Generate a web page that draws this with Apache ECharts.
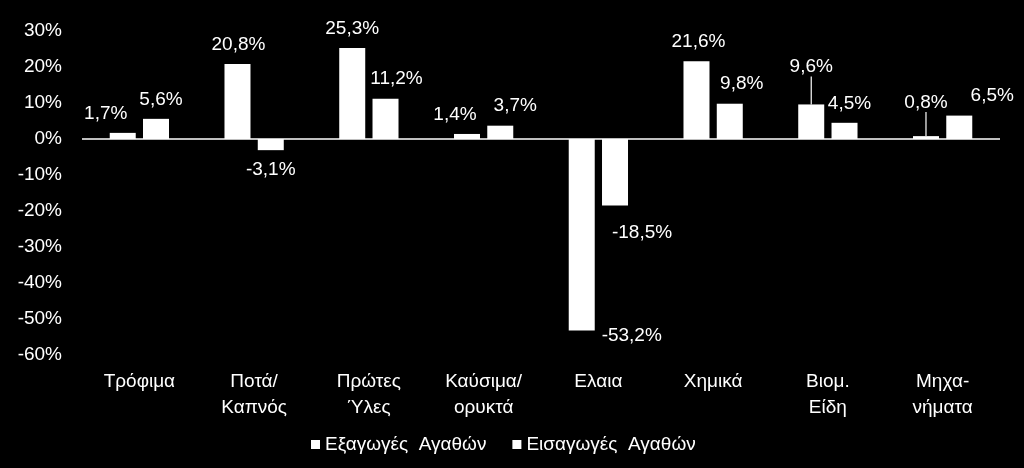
<!DOCTYPE html>
<html>
<head>
<meta charset="utf-8">
<script src="https://cdn.jsdelivr.net/npm/echarts@6/dist/echarts.min.js"></script>
<style>
  html, body { margin: 0; padding: 0; background: #000; }
  #main { width: 1024px; height: 468px; }
</style>
</head>
<body>
<div id="main"></div>
<script>
var categories = ['Τρόφιμα', 'Ποτά/\nΚαπνός', 'Πρώτες\nΎλες', 'Καύσιμα/\nορυκτά', 'Ελαια', 'Χημικά', 'Βιομ.\nΕίδη', 'Μηχα-\nνήματα'];
var exportsVals = [1.7, 20.8, 25.3, 1.4, -53.2, 21.6, 9.6, 0.8];
var importsVals = [5.6, -3.1, 11.2, 3.7, -18.5, 9.8, 4.5, 6.5];
var seriesNames = ['Εξαγωγές  Αγαθών', 'Εισαγωγές  Αγαθών'];

// label nudges
var exportsShift = [[-17, 0], [1, 0], [0, 0], [-12, 0], [50, -14], [2, 0], [0, -18], [0, -14]];
var importsShift = [[5, 0], [0, 0], [11, 0], [15, 0], [27, 8], [12, 0], [5, 0], [33, 0]];
var leaderLines = [[6, 7], []];

var font = 'Liberation Sans, Arial, sans-serif';
var myChart = echarts.init(document.getElementById('main'));

function pct(p) {
    return p.value.toFixed(1).replace('.', ',') + '%';
}

function makeData(vals, seriesIdx) {
    return vals.map(function (v, i) {
        var item = {
            value: v,
            label: { position: v < 0 ? 'bottom' : 'top' }
        };
        if (leaderLines[seriesIdx].indexOf(i) >= 0) {
            item.labelLine = { show: true, lineStyle: { color: '#fff', width: 1.2 } };
        }
        return item;
    });
}

function shiftLayout(shifts) {
    return function (params) {
        var s = shifts[params.dataIndex];
        return { dx: s[0], dy: s[1] };
    };
}

var labelStyle = {
    show: true,
    color: '#fff',
    fontSize: 19,
    fontFamily: font,
    distance: 10,
    formatter: pct
};

var option = {
    backgroundColor: '#000',
    animation: false,
    textStyle: { fontFamily: font },
    grid: { left: 82, right: 24, top: 31, bottom: 113 },
    legend: {
        top: 430,
        left: 306,
        itemWidth: 9,
        itemHeight: 9,
        itemGap: 26,
        icon: 'rect',
        textStyle: { color: '#fff', fontSize: 19, fontFamily: font },
        data: seriesNames
    },
    xAxis: {
        type: 'category',
        data: categories,
        axisLine: { show: false, onZero: false },
        axisTick: { show: false },
        axisLabel: {
            color: '#fff',
            fontSize: 19,
            fontFamily: font,
            lineHeight: 26,
            margin: 14,
            interval: 0
        }
    },
    yAxis: {
        type: 'value',
        min: -60,
        max: 30,
        interval: 10,
        axisLine: { show: false },
        axisTick: { show: false },
        splitLine: { show: false },
        axisLabel: {
            color: '#fff',
            fontSize: 19,
            fontFamily: font,
            margin: 20,
            padding: [6, 0, 0, 0],
            formatter: '{value}%'
        }
    },
    series: [
        {
            name: seriesNames[0],
            type: 'bar',
            barWidth: 26,
            barGap: '28%',
            itemStyle: { color: '#fff' },
            label: labelStyle,
            labelLayout: shiftLayout(exportsShift),
            data: makeData(exportsVals, 0),
            markLine: {
                silent: true,
                symbol: 'none',
                label: { show: false },
                lineStyle: { color: '#fff', type: 'solid', width: 1.5 },
                data: [{ yAxis: 0 }]
            }
        },
        {
            name: seriesNames[1],
            type: 'bar',
            barWidth: 26,
            barGap: '28%',
            itemStyle: { color: '#fff' },
            label: labelStyle,
            labelLayout: shiftLayout(importsShift),
            data: makeData(importsVals, 1)
        }
    ]
};

myChart.setOption(option);
</script>
</body>
</html>
